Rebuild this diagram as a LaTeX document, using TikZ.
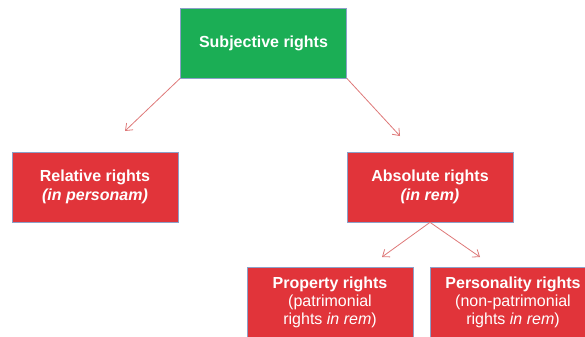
\documentclass[tikz,border=0pt]{standalone}
\usepackage{fontspec}
\setmainfont{Liberation Sans}
\usetikzlibrary{arrows.meta}

\definecolor{boxgreen}{RGB}{27,174,85}
\definecolor{boxred}{RGB}{225,52,58}
\definecolor{boxline}{RGB}{140,160,200}
\definecolor{arrowred}{RGB}{222,120,120}

\tikzset{every picture/.style={line width=0.75pt}}
\tikzset{
  rightsbox/.style={draw=boxline, line width=0.5pt, text=white, align=center,
    minimum width=124.5pt, minimum height=52.5pt, inner sep=0.75pt,
    font=\fontsize{12}{14}\selectfont},
  rightsarrow/.style={draw=arrowred, line width=0.6pt, -{Straight Barb[length=4.5pt,width=7pt]}}
}

\begin{document}
\begin{tikzpicture}[x=0.75pt,y=0.75pt,yscale=-1,xscale=1]
		\useasboundingbox (0,0) rectangle (585,336);
		\clip (0,0) rectangle (585,336);
		
		%Shape: Rectangle [id:subjective]
		\node [rightsbox, fill=boxgreen] (subj) at (263.5,43) {\textbf{Subjective rights}};
		%Shape: Rectangle [id:relative]
		\node [rightsbox, fill=boxred] (rel) at (95,187) {\textbf{Relative rights}\\\textbf{\textit{(in personam)}}};
		%Shape: Rectangle [id:absolute]
		\node [rightsbox, fill=boxred] (abs) at (430,187) {\textbf{Absolute rights}\\\textbf{\textit{(in rem)}}};
		%Shape: Rectangle [id:property]
		\node [rightsbox, fill=boxred, font=\fontsize{12}{13.5}\selectfont] (prop) at (330,302) {\textbf{Property rights}\\(patrimonial\\rights \textit{in rem})};
		%Shape: Rectangle [id:personality]
		\node [rightsbox, fill=boxred, font=\fontsize{12}{13.5}\selectfont] (pers) at (513,302) {\textbf{Personality rights}\\(non-patrimonial\\rights \textit{in rem})};
		
		\coordinate (relend) at (125,131);
		\coordinate (absend) at (400,136);
		\coordinate (propend) at (382,257);
		\coordinate (persend) at (480,257);
		
		\draw [rightsarrow] (subj.south west) -- (relend);
		\draw [rightsarrow] (subj.south east) -- (absend);
		\draw [rightsarrow] (abs.south) -- (propend);
		\draw [rightsarrow] (abs.south) -- (persend);
		
	\end{tikzpicture}
\end{document}
